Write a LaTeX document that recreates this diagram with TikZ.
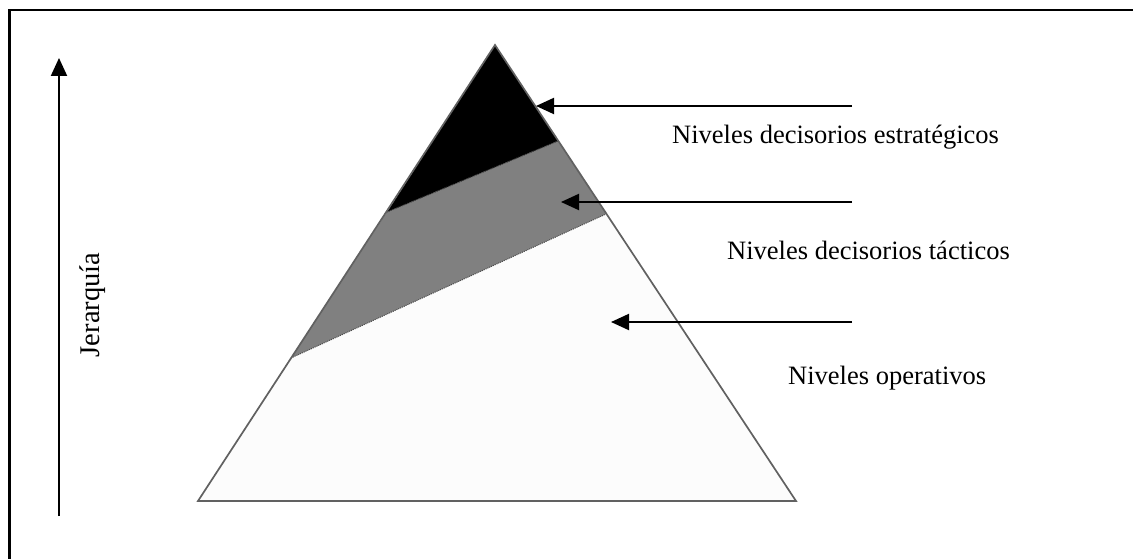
\documentclass[tikz,border=0pt]{standalone}
\usepackage{fontspec}
\setmainfont{Liberation Serif}
\usetikzlibrary{arrows.meta}
\begin{document}
\begin{tikzpicture}[x=1pt,y=-1pt,
  frameline/.style={line width=2.4pt,black},
  pyredge/.style={draw=black!62,line width=1.7pt,line join=miter},
  pointer/.style={line width=2pt,-{Triangle[length=18pt,width=16pt]}},
  label/.style={font=\fontsize{26.5}{32}\selectfont,inner sep=0pt}]
  \useasboundingbox (0,0) rectangle (1133,559);
  \fill[white] (0,0) rectangle (1133,559);
  \clip (0,0) rectangle (1133,559);

  % outer frame (runs off the right and bottom)
  \draw[frameline] (9.5,575) -- (9.5,10) -- (1145,10);

  % pyramid corners
  \coordinate (apex) at (495,45);
  \coordinate (bl) at (198,501);
  \coordinate (br) at (796,501);
  % band boundaries on the sides
  \coordinate (sl) at (387,212);
  \coordinate (sr) at (558,141);
  \coordinate (tl) at (291,358);
  \coordinate (tr) at (606,214);

  % levels
  \fill[black!1] (apex) -- (bl) -- (br) -- cycle;
  \fill[black!50] (sl) -- (sr) -- (tr) -- (tl) -- cycle;
  \draw[black!70,line width=1pt,densely dotted] (tl) -- (tr);
  \fill[black] (apex) -- (sl) -- (sr) -- cycle;
  \draw[black!50!gray,line width=1pt,densely dotted] (sl) -- (sr);
  \draw[pyredge] (apex) -- (bl) -- (br) -- cycle;

  % pointers
  \coordinate (s1) at (852,106);
  \coordinate (e1) at (536,106);
  \coordinate (s2) at (852,202);
  \coordinate (e2) at (561,202);
  \coordinate (s3) at (852,322);
  \coordinate (e3) at (611,322);
  \draw[pointer] (s1) -- (e1);
  \draw[pointer] (s2) -- (e2);
  \draw[pointer] (s3) -- (e3);

  \node[label,anchor=base west] (estr) at (672,144) {Niveles decisorios estratégicos};
  \node[label,anchor=base west] (tact) at (727,259) {Niveles decisorios tácticos};
  \node[label,anchor=base west] (oper) at (788,384) {Niveles operativos};

  % hierarchy axis
  \coordinate (ax0) at (59,516);
  \coordinate (ax1) at (59,58);
  \draw[pointer] (ax0) -- (ax1);
  \node[label,font=\fontsize{28.5}{34}\selectfont,rotate=90,anchor=base] (jer) at (99,305) {Jerarquía};
\end{tikzpicture}
\end{document}
